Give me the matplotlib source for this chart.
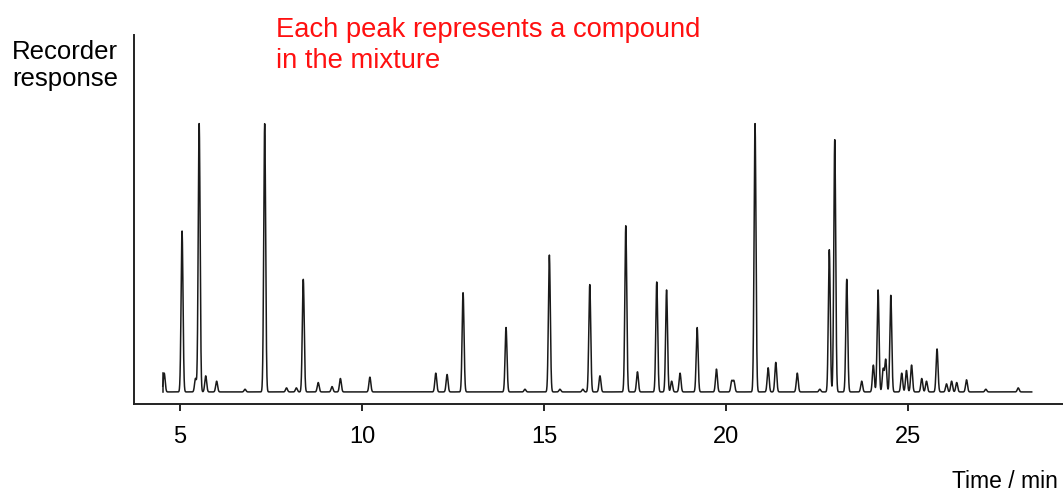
import numpy as np
import matplotlib
matplotlib.use("Agg")
from matplotlib import pyplot as plt

plt.rcParams['font.family'] = ['Liberation Sans', 'DejaVu Sans']

# retention times (min) and peak heights (% of largest peak)
peak_times = [4.57, 5.06, 5.43, 5.53, 5.71, 6.01, 6.79, 7.33, 7.93, 8.20,
              8.39, 8.80, 9.18, 9.41, 10.22, 12.03, 12.34, 12.78, 13.96, 14.48,
              15.15, 15.44, 16.07, 16.26, 16.54, 17.25, 17.57, 18.10, 18.37, 18.51,
              18.74, 19.21, 19.74, 20.16, 20.22, 20.80, 21.16, 21.37, 21.96, 22.58,
              22.84, 22.99, 23.32, 23.73, 24.05, 24.18, 24.32, 24.39, 24.53, 24.83,
              24.96, 25.10, 25.38, 25.51, 25.80, 26.06, 26.20, 26.34, 26.61, 27.14,
              28.03]
peak_heights = [7, 60, 5, 100, 6, 4, 1, 100, 1.5, 1.5,
                42, 3.5, 2, 5, 5.5, 7, 6.5, 37, 24, 1,
                51, 1, 1, 40, 6, 62, 7.5, 41, 38, 4,
                7, 24, 8.5, 4, 4, 100, 9, 11, 7, 1,
                53, 94, 42, 4, 10, 38, 8.5, 12, 36, 7,
                8, 10, 5, 4, 16, 3, 4, 3.5, 4.5, 1, 1.5]
peak_widths = [0.026] * len(peak_times)

t_start, t_end = 4.53, 28.4
xticks = [5, 10, 15, 20, 25]

t = np.linspace(t_start, t_end, 8000)
signal = np.zeros_like(t)
for tp, h, w in zip(peak_times, peak_heights, peak_widths):
    signal += h * np.exp(-0.5 * ((t - tp) / w) ** 2)

fig = plt.figure(figsize=(10.63, 4.95), dpi=100)
ax = fig.add_axes([134 / 1063, 91 / 495, 1 - 134 / 1063, 369 / 495])
ax.plot(t, signal, color='#1a1a1a', lw=1.1)
ax.plot([t_start, t_start], [0, peak_heights[0]], color='#1a1a1a', lw=1.1)

ax.set_xlim(3.74, 29.26)
ax.set_ylim(-4.5, 133)
ax.spines['top'].set_visible(False)
ax.spines['right'].set_visible(False)
for s in ['left', 'bottom']:
    ax.spines[s].set_linewidth(1.4)
    ax.spines[s].set_color('#222222')
ax.set_yticks([])
ax.set_xticks(xticks)
ax.tick_params(axis='x', direction='out', length=5, width=1.2, labelsize=17, pad=11)

def px(x, y):
    return x / 1063, 1 - y / 495

fig.text(*px(12, 59), 'Recorder', fontsize=18.5, va='baseline', ha='left')
fig.text(*px(12, 86), 'response', fontsize=18.5, va='baseline', ha='left')
fig.text(*px(276, 37), 'Each peak represents a compound', fontsize=19.7,
         color='#ff1010', va='baseline', ha='left')
fig.text(*px(276, 68), 'in the mixture', fontsize=19.7,
         color='#ff1010', va='baseline', ha='left')
fig.text(*px(1058, 488), 'Time / min', fontsize=16.5, va='baseline', ha='right')

fig.savefig('out.png', dpi=100)
